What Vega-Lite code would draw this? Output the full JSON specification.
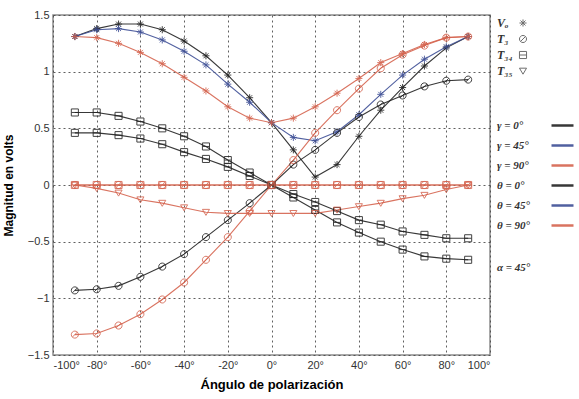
{
  "$schema": "https://vega.github.io/schema/vega-lite/v6.json",
  "width": 437,
  "height": 340,
  "autosize": "none",
  "padding": {"left": 53, "top": 15, "right": 89, "bottom": 44},
  "background": "white",
  "config": {
    "view": {"stroke": "#8c8c8c", "strokeWidth": 1.5},
    "font": "Liberation Sans",
    "axis": {
      "grid": true,
      "gridColor": "#444",
      "gridDash": [2, 3],
      "gridWidth": 1,
      "gridOpacity": 0.85,
      "domain": false,
      "ticks": false,
      "labelFont": "Liberation Sans",
      "labelFontSize": 11,
      "labelColor": "#333",
      "titleFont": "Liberation Sans",
      "titleFontWeight": "bold",
      "titleColor": "#000"
    },
    "legend": {
      "labelFont": "Liberation Serif",
      "labelFontStyle": "italic",
      "labelFontWeight": "bold",
      "labelColor": "#333",
      "titleFont": "Liberation Serif",
      "titleFontStyle": "italic",
      "titleFontWeight": "bold",
      "titleColor": "#333"
    }
  },
  "datasets": {
    "curves": [
      {"angle": -90, "vo_g0": 1.31, "vo_g45": 1.31, "vo_g90": 1.31, "t3_t0": -0.93, "t3_t90": -1.32, "t34_g0": 0.64, "t34_t0": 0.46, "t35_t90": 0.0, "t34_g90": 0, "t3_g90": 0},
      {"angle": -80, "vo_g0": 1.38, "vo_g45": 1.37, "vo_g90": 1.30, "t3_t0": -0.92, "t3_t90": -1.31, "t34_g0": 0.64, "t34_t0": 0.46, "t35_t90": -0.03, "t34_g90": 0, "t3_g90": 0},
      {"angle": -70, "vo_g0": 1.42, "vo_g45": 1.38, "vo_g90": 1.25, "t3_t0": -0.89, "t3_t90": -1.24, "t34_g0": 0.61, "t34_t0": 0.44, "t35_t90": -0.07, "t34_g90": 0, "t3_g90": 0},
      {"angle": -60, "vo_g0": 1.42, "vo_g45": 1.35, "vo_g90": 1.17, "t3_t0": -0.81, "t3_t90": -1.14, "t34_g0": 0.56, "t34_t0": 0.41, "t35_t90": -0.13, "t34_g90": 0, "t3_g90": 0},
      {"angle": -50, "vo_g0": 1.37, "vo_g45": 1.28, "vo_g90": 1.07, "t3_t0": -0.72, "t3_t90": -1.01, "t34_g0": 0.50, "t34_t0": 0.36, "t35_t90": -0.16, "t34_g90": 0, "t3_g90": 0},
      {"angle": -40, "vo_g0": 1.27, "vo_g45": 1.18, "vo_g90": 0.95, "t3_t0": -0.61, "t3_t90": -0.86, "t34_g0": 0.43, "t34_t0": 0.29, "t35_t90": -0.20, "t34_g90": 0, "t3_g90": 0},
      {"angle": -30, "vo_g0": 1.14, "vo_g45": 1.06, "vo_g90": 0.83, "t3_t0": -0.46, "t3_t90": -0.66, "t34_g0": 0.34, "t34_t0": 0.23, "t35_t90": -0.24, "t34_g90": 0, "t3_g90": 0},
      {"angle": -20, "vo_g0": 0.97, "vo_g45": 0.89, "vo_g90": 0.69, "t3_t0": -0.31, "t3_t90": -0.46, "t34_g0": 0.22, "t34_t0": 0.16, "t35_t90": -0.25, "t34_g90": 0, "t3_g90": 0},
      {"angle": -10, "vo_g0": 0.77, "vo_g45": 0.73, "vo_g90": 0.59, "t3_t0": -0.16, "t3_t90": -0.23, "t34_g0": 0.11, "t34_t0": 0.08, "t35_t90": -0.25, "t34_g90": 0, "t3_g90": 0},
      {"angle": 0, "vo_g0": 0.55, "vo_g45": 0.55, "vo_g90": 0.55, "t3_t0": 0.0, "t3_t90": 0.0, "t34_g0": 0.0, "t34_t0": 0.0, "t35_t90": -0.25, "t34_g90": 0, "t3_g90": 0},
      {"angle": 10, "vo_g0": 0.31, "vo_g45": 0.42, "vo_g90": 0.59, "t3_t0": 0.18, "t3_t90": 0.22, "t34_g0": -0.11, "t34_t0": -0.08, "t35_t90": -0.25, "t34_g90": 0, "t3_g90": 0},
      {"angle": 20, "vo_g0": 0.07, "vo_g45": 0.39, "vo_g90": 0.69, "t3_t0": 0.31, "t3_t90": 0.46, "t34_g0": -0.22, "t34_t0": -0.15, "t35_t90": -0.25, "t34_g90": 0, "t3_g90": 0},
      {"angle": 30, "vo_g0": 0.18, "vo_g45": 0.47, "vo_g90": 0.81, "t3_t0": 0.46, "t3_t90": 0.66, "t34_g0": -0.33, "t34_t0": -0.23, "t35_t90": -0.22, "t34_g90": 0, "t3_g90": 0},
      {"angle": 40, "vo_g0": 0.43, "vo_g45": 0.62, "vo_g90": 0.94, "t3_t0": 0.60, "t3_t90": 0.85, "t34_g0": -0.42, "t34_t0": -0.31, "t35_t90": -0.19, "t34_g90": 0, "t3_g90": 0},
      {"angle": 50, "vo_g0": 0.66, "vo_g45": 0.80, "vo_g90": 1.08, "t3_t0": 0.71, "t3_t90": 1.03, "t34_g0": -0.50, "t34_t0": -0.35, "t35_t90": -0.16, "t34_g90": 0, "t3_g90": 0},
      {"angle": 60, "vo_g0": 0.86, "vo_g45": 0.97, "vo_g90": 1.16, "t3_t0": 0.79, "t3_t90": 1.15, "t34_g0": -0.57, "t34_t0": -0.41, "t35_t90": -0.12, "t34_g90": 0, "t3_g90": 0},
      {"angle": 70, "vo_g0": 1.05, "vo_g45": 1.11, "vo_g90": 1.24, "t3_t0": 0.87, "t3_t90": 1.23, "t34_g0": -0.63, "t34_t0": -0.44, "t35_t90": -0.09, "t34_g90": 0, "t3_g90": 0},
      {"angle": 80, "vo_g0": 1.21, "vo_g45": 1.22, "vo_g90": 1.30, "t3_t0": 0.92, "t3_t90": 1.30, "t34_g0": -0.65, "t34_t0": -0.47, "t35_t90": -0.04, "t34_g90": 0, "t3_g90": 0},
      {"angle": 90, "vo_g0": 1.31, "vo_g45": 1.31, "vo_g90": 1.31, "t3_t0": 0.93, "t3_t90": 1.31, "t34_g0": -0.66, "t34_t0": -0.47, "t35_t90": 0.0, "t34_g90": 0, "t3_g90": 0}
    ],
    "series_info": [
      {"series": "vo_g0", "marker": "Vₒ", "setting": "γ = 0°"},
      {"series": "vo_g45", "marker": "Vₒ", "setting": "γ = 45°"},
      {"series": "vo_g90", "marker": "Vₒ", "setting": "γ = 90°"},
      {"series": "t3_t0", "marker": "T₃", "setting": "θ = 0°"},
      {"series": "t3_t90", "marker": "T₃", "setting": "θ = 90°"},
      {"series": "t34_g0", "marker": "T₃₄", "setting": "γ = 0°"},
      {"series": "t34_t0", "marker": "T₃₄", "setting": "θ = 0°"},
      {"series": "t35_t90", "marker": "T₃₅", "setting": "θ = 90°"},
      {"series": "t34_g90", "marker": "T₃₄", "setting": "γ = 90°"},
      {"series": "t3_g90", "marker": "T₃", "setting": "γ = 90°"}
    ]
  },
  "data": {"name": "curves"},
  "transform": [
    {"fold": ["vo_g0", "vo_g45", "vo_g90", "t3_t0", "t3_t90", "t34_g0", "t34_t0", "t35_t90", "t34_g90", "t3_g90"], "as": ["series", "volts"]},
    {"lookup": "series", "from": {"data": {"name": "series_info"}, "key": "series", "fields": ["marker", "setting"]}}
  ],
  "encoding": {
    "x": {
      "field": "angle",
      "type": "quantitative",
      "scale": {"domain": [-100, 100], "nice": false},
      "axis": {
        "values": [-100, -80, -60, -40, -20, 0, 20, 40, 60, 80, 100],
        "labelExpr": "datum.value + '°'",
        "labelPadding": 4,
        "title": "Ángulo de polarización",
        "titleFontSize": 13,
        "titlePadding": 8
      }
    },
    "y": {
      "field": "volts",
      "type": "quantitative",
      "scale": {"domain": [-1.5, 1.5], "nice": false},
      "axis": {
        "values": [-1.5, -1, -0.5, 0, 0.5, 1, 1.5],
        "format": "~g",
        "labelPadding": 4,
        "title": "Magnitud en volts",
        "titleFontSize": 12,
        "titlePadding": 12
      }
    }
  },
  "layer": [
    {
      "mark": {"type": "line", "strokeWidth": 1.1, "opacity": 0.9},
      "encoding": {
        "color": {
          "field": "setting",
          "type": "nominal",
          "scale": {
            "domain": ["γ = 0°", "γ = 45°", "γ = 90°", "θ = 0°", "θ = 45°", "θ = 90°"],
            "range": ["#222222", "#3e4f96", "#d5644f", "#222222", "#3e4f96", "#d5644f"]
          },
          "legend": {
            "orient": "none",
            "legendX": 444,
            "legendY": 98,
            "title": "α = 45°",
            "titleOrient": "bottom",
            "titleFontSize": 11,
            "titlePadding": 31,
            "symbolType": "stroke",
            "symbolSize": 484,
            "symbolStrokeWidth": 2.5,
            "symbolOffset": 53,
            "labelFontSize": 11,
            "labelOffset": -78,
            "rowPadding": 2
          }
        },
        "detail": {"field": "series"}
      }
    },
    {
      "mark": {"type": "point", "filled": false, "strokeWidth": 1, "opacity": 0.85, "size": 50},
      "encoding": {
        "color": {"field": "setting", "type": "nominal", "legend": null},
        "shape": {
          "field": "marker",
          "type": "nominal",
          "scale": {
            "domain": ["Vₒ", "T₃", "T₃₄", "T₃₅"],
            "range": [
              "M-1,0H1M0,-1V1M-0.7,-0.7L0.7,0.7M-0.7,0.7L0.7,-0.7",
              "M-1,0A1,1 0 1,0 1,0A1,1 0 1,0 -1,0ZM-0.7,0.7L0.7,-0.7",
              "M-1,-1H1V1H-1ZM-1,0H1",
              "M-1,-0.8H1L0,0.9Z"
            ]
          },
          "legend": {
            "orient": "none",
            "legendX": 464,
            "legendY": 2,
            "title": null,
            "symbolSize": 50,
            "symbolStrokeColor": "#555",
            "symbolFillColor": "transparent",
            "symbolStrokeWidth": 1,
            "labelFontSize": 12,
            "labelOffset": -32,
            "rowPadding": 4
          }
        }
      }
    }
  ]
}
